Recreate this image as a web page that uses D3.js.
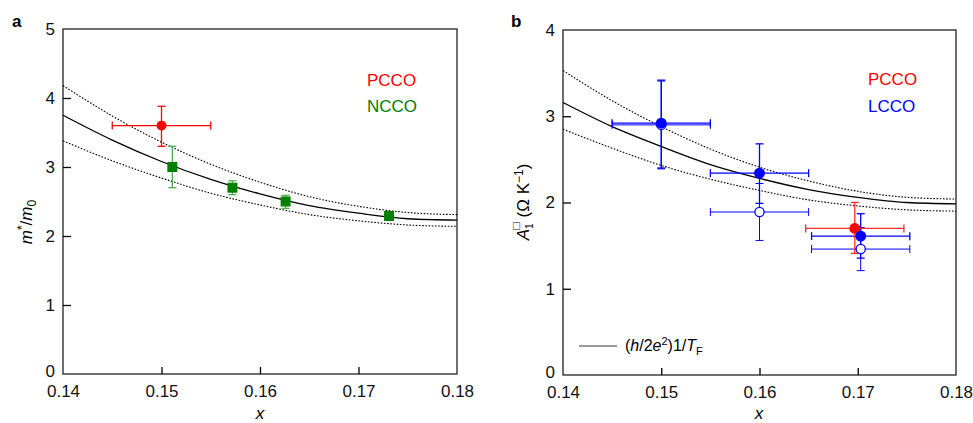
<!DOCTYPE html>
<html><head><meta charset="utf-8">
<script src="https://cdn.jsdelivr.net/npm/d3@7"></script>
<style>
body{margin:0;background:#fff;}
text{font-family:"Liberation Sans",Arial,Helvetica,sans-serif;}
</style></head>
<body><svg id="c" width="973" height="423"></svg>
<script>
// ---------- data ----------
const xTicks = [0.14, 0.15, 0.16, 0.17, 0.18];
const aYTicks = [0, 1, 2, 3, 4, 5];
const bYTicks = [0, 1, 2, 3, 4];
const curveX = [0.14, 0.145, 0.15, 0.155, 0.16, 0.165, 0.17, 0.175, 0.18];
// panel a: m*/m0 theory curve and bounds
const aFit      = [3.75, 3.39, 3.08, 2.82, 2.61, 2.44, 2.33, 2.25, 2.23];
const aFitUpper = [4.18, 3.74, 3.36, 3.04, 2.78, 2.57, 2.43, 2.34, 2.31];
const aFitLower = [3.38, 3.09, 2.84, 2.62, 2.45, 2.31, 2.22, 2.16, 2.14];
// panel b: (h/2e^2)1/T_F curve and bounds
const bFit      = [3.16, 2.88, 2.65, 2.44, 2.28, 2.15, 2.06, 2.00, 1.985];
const bFitUpper = [3.53, 3.18, 2.88, 2.62, 2.41, 2.25, 2.13, 2.06, 2.04];
const bFitLower = [2.85, 2.63, 2.43, 2.27, 2.14, 2.03, 1.96, 1.915, 1.90];
// points: x, y, x error, y low, y high
const aPCCO = [{x:0.150, y:3.60, xe:0.005, lo:3.30, hi:3.88}];
const aNCCO = [
  {x:0.1511, y:3.00, xe:0, lo:2.70, hi:3.30},
  {x:0.1572, y:2.70, xe:0, lo:2.60, hi:2.80},
  {x:0.1626, y:2.50, xe:0, lo:2.40, hi:2.59},
  {x:0.1731, y:2.29, xe:0, lo:2.25, hi:2.33}
];
const bPCCO = [{x:0.1697, y:1.70, xe:0.005, lo:1.41, hi:2.00}];
const bLCCOFilled = [
  {x:0.150, y:2.92, xe:0.005, lo:2.40, hi:3.41},
  {x:0.160, y:2.34, xe:0.005, lo:1.99, hi:2.68},
  {x:0.1703, y:1.61, xe:0.005, lo:1.355, hi:1.87}
];
const bLCCOOpen = [
  {x:0.150, y:2.90, xe:0.005, lo:2.39, hi:3.42},
  {x:0.160, y:1.89, xe:0.005, lo:1.56, hi:2.22},
  {x:0.1703, y:1.46, xe:0.005, lo:1.21, hi:1.71}
];

// ---------- drawing ----------
const svg = d3.select("#c");
const RED = "#ff0000", GREEN = "#008000", GREENE = "#4fae4f", BLUE = "#0000ff";

function panel(o) {
  const g = svg.append("g").attr("transform", `translate(${o.left},${o.top})`);
  const x = d3.scaleLinear().domain([0.14, 0.18]).range([0, o.w]);
  const y = d3.scaleLinear().domain([0, o.ymax]).range([o.h, 0]);
  g.append("rect").attr("width", o.w).attr("height", o.h)
    .attr("fill", "none").attr("stroke", "#222").attr("stroke-width", 1.3);
  const xa = g.append("g").attr("transform", `translate(0,${o.h})`)
    .call(d3.axisBottom(x).tickValues(xTicks).tickSize(-7).tickPadding(11)
      .tickFormat(d3.format(".2f")));
  const ya = g.append("g")
    .call(d3.axisLeft(y).tickValues(o.yTicks).tickSize(-8).tickPadding(8)
      .tickFormat(d3.format("d")));
  [xa, ya].forEach(a => {
    a.select(".domain").remove();
    a.selectAll(".tick line").attr("stroke", "#000").attr("stroke-width", 1.3);
    a.selectAll(".tick text").attr("font-size", 17).attr("fill", "#111")
      .attr("font-family", "'Liberation Sans',Arial,sans-serif");
  });
  xa.selectAll(".tick").filter(d => d === 0.14 || d === 0.18).select("line").remove();
  ya.selectAll(".tick").filter((d, i, n) => i === 0 || i === n.length - 1).select("line").remove();
  ya.selectAll(".tick").filter(d => d === 0).select("text").attr("y", -3);
  const line = d3.line().x(d => x(d[0])).y(d => y(d[1])).curve(d3.curveMonotoneX);
  const cg = g.append("g");
  cg.append("path").datum(d3.zip(curveX, o.fit)).attr("d", line)
    .attr("fill", "none").attr("stroke", "#000").attr("stroke-width", 1.3);
  [o.up, o.low].forEach(arr => cg.append("path").datum(d3.zip(curveX, arr)).attr("d", line)
    .attr("fill", "none").attr("stroke", "#000").attr("stroke-width", 1.1)
    .attr("stroke-dasharray", "1.6,1.6"));
  return {g, x, y};
}

function errbars(p, data, color, cap, sw) {
  const eg = p.g.append("g").attr("stroke", color).attr("stroke-width", sw || 1.3).attr("fill", "none");
  data.forEach(d => {
    const cx = p.x(d.x), cy = p.y(d.y);
    eg.append("line").attr("x1", cx).attr("x2", cx).attr("y1", p.y(d.lo)).attr("y2", p.y(d.hi));
    [d.lo, d.hi].forEach(v => eg.append("line").attr("x1", cx - cap).attr("x2", cx + cap)
      .attr("y1", p.y(v)).attr("y2", p.y(v)));
    if (d.xe > 0) {
      const x0 = p.x(d.x - d.xe), x1 = p.x(d.x + d.xe);
      eg.append("line").attr("x1", x0).attr("x2", x1).attr("y1", cy).attr("y2", cy);
      [x0, x1].forEach(v => eg.append("line").attr("x1", v).attr("x2", v)
        .attr("y1", cy - cap).attr("y2", cy + cap));
    }
  });
}
function circles(p, data, fill, stroke, r) {
  p.g.append("g").selectAll("circle").data(data).join("circle")
    .attr("cx", d => p.x(d.x)).attr("cy", d => p.y(d.y)).attr("r", r)
    .attr("fill", fill).attr("stroke", stroke).attr("stroke-width", 1.3);
}

// Panel a
const pa = panel({left:63, top:29, w:394, h:345, ymax:5, yTicks:aYTicks,
  fit:aFit, up:aFitUpper, low:aFitLower});
errbars(pa, aNCCO, GREENE, 4);
errbars(pa, aPCCO, RED, 4);
circles(pa, aPCCO, RED, RED, 4.3);
pa.g.append("g").selectAll("rect").data(aNCCO).join("rect")
  .attr("x", d => pa.x(d.x) - 5).attr("y", d => pa.y(d.y) - 5)
  .attr("width", 10).attr("height", 10).attr("fill", GREEN);

// Panel b
const pb = panel({left:563, top:30, w:393, h:345, ymax:4, yTicks:bYTicks,
  fit:bFit, up:bFitUpper, low:bFitLower});
errbars(pb, bLCCOOpen, BLUE, 4, 1.0);
errbars(pb, bLCCOFilled, BLUE, 4);
errbars(pb, bPCCO, "#ff2a2a", 4);
circles(pb, bLCCOOpen, "#fff", BLUE, 4.6);
circles(pb, bPCCO, RED, RED, 4.8);
circles(pb, bLCCOFilled, BLUE, BLUE, 4.8);

// ---------- text ----------
svg.append("text").attr("x", 12).attr("y", 27).attr("font-size", 17).attr("font-weight", "bold").text("a");
svg.append("text").attr("x", 511).attr("y", 27).attr("font-size", 17).attr("font-weight", "bold").text("b");

svg.append("text").attr("x", 367).attr("y", 86).attr("font-size", 17).attr("fill", RED).text("PCCO");
svg.append("text").attr("x", 367).attr("y", 112).attr("font-size", 17).attr("fill", GREEN).text("NCCO");
svg.append("text").attr("x", 868).attr("y", 85).attr("font-size", 17).attr("fill", RED).text("PCCO");
svg.append("text").attr("x", 868).attr("y", 112).attr("font-size", 17).attr("fill", BLUE).text("LCCO");

[260, 759].forEach(cx => svg.append("text").attr("x", cx).attr("y", 419)
  .attr("text-anchor", "middle").attr("font-size", 17).attr("font-style", "italic").text("x"));

const ta = svg.append("text").attr("transform", "translate(32,222) rotate(-90)")
  .attr("text-anchor", "middle").attr("font-size", 17);
ta.append("tspan").attr("font-style", "italic").text("m");
ta.append("tspan").attr("font-size", 12).attr("dy", -6).text("*");
ta.append("tspan").attr("dy", 6).text("/");
ta.append("tspan").attr("font-style", "italic").text("m");
ta.append("tspan").attr("font-size", 12).attr("dy", 4).text("0");

const tb = svg.append("text").attr("transform", "translate(529,202) rotate(-90)")
  .attr("text-anchor", "middle").attr("font-size", 17);
tb.append("tspan").attr("font-style", "italic").text("A");
tb.append("tspan").attr("font-size", 10).attr("dy", 4).text("1");
tb.append("tspan").attr("font-size", 12).attr("dx", -6).attr("dy", -13).text("□");
tb.append("tspan").attr("dy", 9).text(" (Ω K");
tb.append("tspan").attr("font-size", 12).attr("dy", -6).text("−1");
tb.append("tspan").attr("dy", 6).text(")");

svg.append("line").attr("x1", 579).attr("x2", 617).attr("y1", 346).attr("y2", 346)
  .attr("stroke", "#333").attr("stroke-width", 1.2);
const tl = svg.append("text").attr("x", 625).attr("y", 351).attr("font-size", 16);
tl.append("tspan").text("(");
tl.append("tspan").attr("font-style", "italic").text("h");
tl.append("tspan").text("/2");
tl.append("tspan").attr("font-style", "italic").text("e");
tl.append("tspan").attr("font-size", 11).attr("dy", -6).text("2");
tl.append("tspan").attr("dy", 6).text(")1/");
tl.append("tspan").attr("font-style", "italic").text("T");
tl.append("tspan").attr("font-size", 11).attr("dy", 4).text("F");
</script></body></html>
